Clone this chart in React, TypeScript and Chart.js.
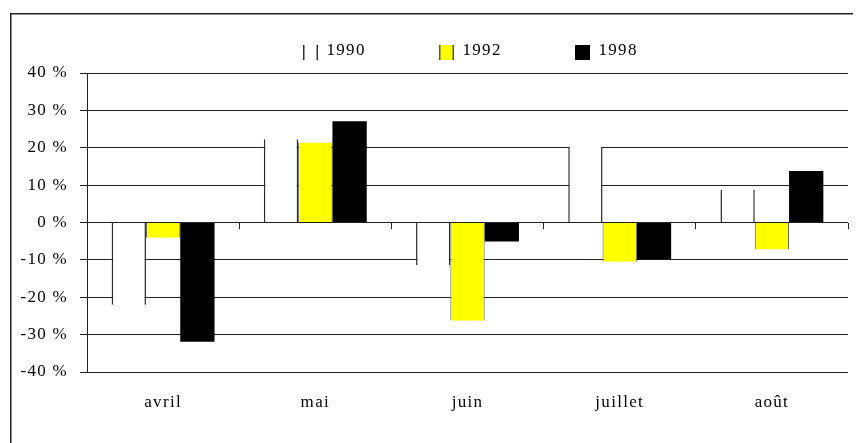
import React, { useEffect, useRef } from 'react';
import { Chart, registerables } from 'chart.js';

Chart.register(...registerables);

const categories = ['avril', 'mai', 'juin', 'juillet', 'août'];
const seriesNames = ['1990', '1992', '1998'];
const values1990 = [-22, 22.3, -11.4, 20.2, 8.7];
const values1992 = [-4.1, 21.4, -26.3, -10.5, -7.2];
const values1998 = [-31.9, 27.1, -5.1, -9.8, 13.8];
const yMin = -40;
const yMax = 40;
const yStep = 10;

const FONT = "'Liberation Serif', 'Times New Roman', serif";
const SPACING = '1.3px';

export default function App() {
  const ref = useRef<HTMLCanvasElement>(null);

  useEffect(() => {
    document.documentElement.style.overflow = 'hidden';
    document.body.style.overflow = 'hidden';
    const canvas = ref.current!;

    const spacingPlugin = {
      id: 'spacing',
      beforeLayout(chart: any) { chart.ctx.letterSpacing = SPACING; },
      beforeDraw(chart: any) { chart.ctx.letterSpacing = SPACING; },
    };

    const framePlugin = {
      id: 'frame',
      beforeDraw(chart: any) {
        const ctx = chart.ctx;
        ctx.save();
        ctx.strokeStyle = '#222';
        ctx.lineWidth = 1.5;
        ctx.beginPath();
        ctx.moveTo(2.75, chart.height + 5);
        ctx.lineTo(2.75, 5.75);
        ctx.lineTo(chart.width + 5, 5.75);
        ctx.stroke();
        ctx.restore();
      },
    };

    const legendEdge = ['#333', '#555', '#000'];
    const legendPlugin = {
      id: 'customLegend',
      afterDraw(chart: any) {
        const ctx = chart.ctx;
        const area = chart.chartArea;
        ctx.save();
        ctx.font = `17px ${FONT}`;
        ctx.letterSpacing = SPACING;
        ctx.textBaseline = 'alphabetic';
        ctx.textAlign = 'left';
        const startX = area.left + 216;
        chart.data.datasets.forEach((ds: any, i: number) => {
          const x = startX + i * 136;
          const y = 37;
          ctx.fillStyle = ds.backgroundColor;
          ctx.fillRect(x, y, 15, 15);
          ctx.fillStyle = legendEdge[i];
          ctx.fillRect(x, y, 1.5, 15);
          ctx.fillRect(x + 13.5, y, 1.5, 15);
          ctx.fillStyle = '#000';
          ctx.fillText(ds.label, x + 23.5, 46.5);
        });
        ctx.restore();
      },
    };

    const tickFont = { family: FONT, size: 17 };

    const chart = new Chart(canvas, {
      type: 'bar',
      data: {
        labels: categories,
        datasets: [
          {
            label: seriesNames[0],
            data: values1990,
            backgroundColor: '#ffffff',
            borderColor: '#2a2a2a',
            borderWidth: { left: 1.5, right: 1.5, top: 0, bottom: 0 },
            borderSkipped: false,
            xAxisID: 'x',
            yAxisID: 'y',
          },
          {
            label: seriesNames[1],
            data: values1992,
            backgroundColor: '#ffff00',
            borderColor: '#555',
            borderWidth: { left: 1, right: 1, top: 0, bottom: 0 },
            borderSkipped: false,
            xAxisID: 'x',
            yAxisID: 'y',
          },
          {
            label: seriesNames[2],
            data: values1998,
            backgroundColor: '#000000',
            borderColor: '#000',
            borderWidth: 0,
            xAxisID: 'x',
            yAxisID: 'y',
          },
        ],
      },
      options: {
        animation: false,
        responsive: true,
        maintainAspectRatio: false,
        layout: { padding: { top: 65, right: 13, left: 0, bottom: 0 } },
        plugins: { legend: { display: false }, tooltip: { enabled: false } },
        datasets: { bar: { categoryPercentage: 0.676, barPercentage: 1 } },
        scales: {
          x: {
            type: 'category',
            position: { y: 0 },
            offset: true,
            grid: {
              display: true,
              drawOnChartArea: false,
              drawTicks: true,
              tickLength: 6,
              color: '#222',
              offset: true,
            },
            border: { display: false },
            ticks: { display: false },
          },
          x2: {
            type: 'category',
            labels: categories,
            position: 'bottom',
            offset: true,
            grid: { display: false, drawTicks: false, tickLength: 0 },
            border: { display: false },
            ticks: {
              padding: 20,
              color: '#000',
              font: tickFont,
              maxRotation: 0,
              autoSkip: false,
            },
            afterFit: (s: any) => { s.height = 71; },
          },
          y: {
            min: yMin,
            max: yMax,
            position: 'left',
            ticks: {
              stepSize: yStep,
              padding: 12,
              color: '#000',
              font: tickFont,
              callback: (v: any) => `${v} %`,
            },
            grid: { color: '#222', tickLength: 7, drawTicks: true },
            border: { display: true, color: '#222' },
            afterFit: (s: any) => { s.width = 79; },
          },
        },
      } as any,
      plugins: [spacingPlugin, framePlugin, legendPlugin],
    });

    return () => chart.destroy();
  }, []);

  return (
    <div style={{ position: 'relative', width: 853, height: 435 }}>
      <canvas ref={ref} />
    </div>
  );
}
